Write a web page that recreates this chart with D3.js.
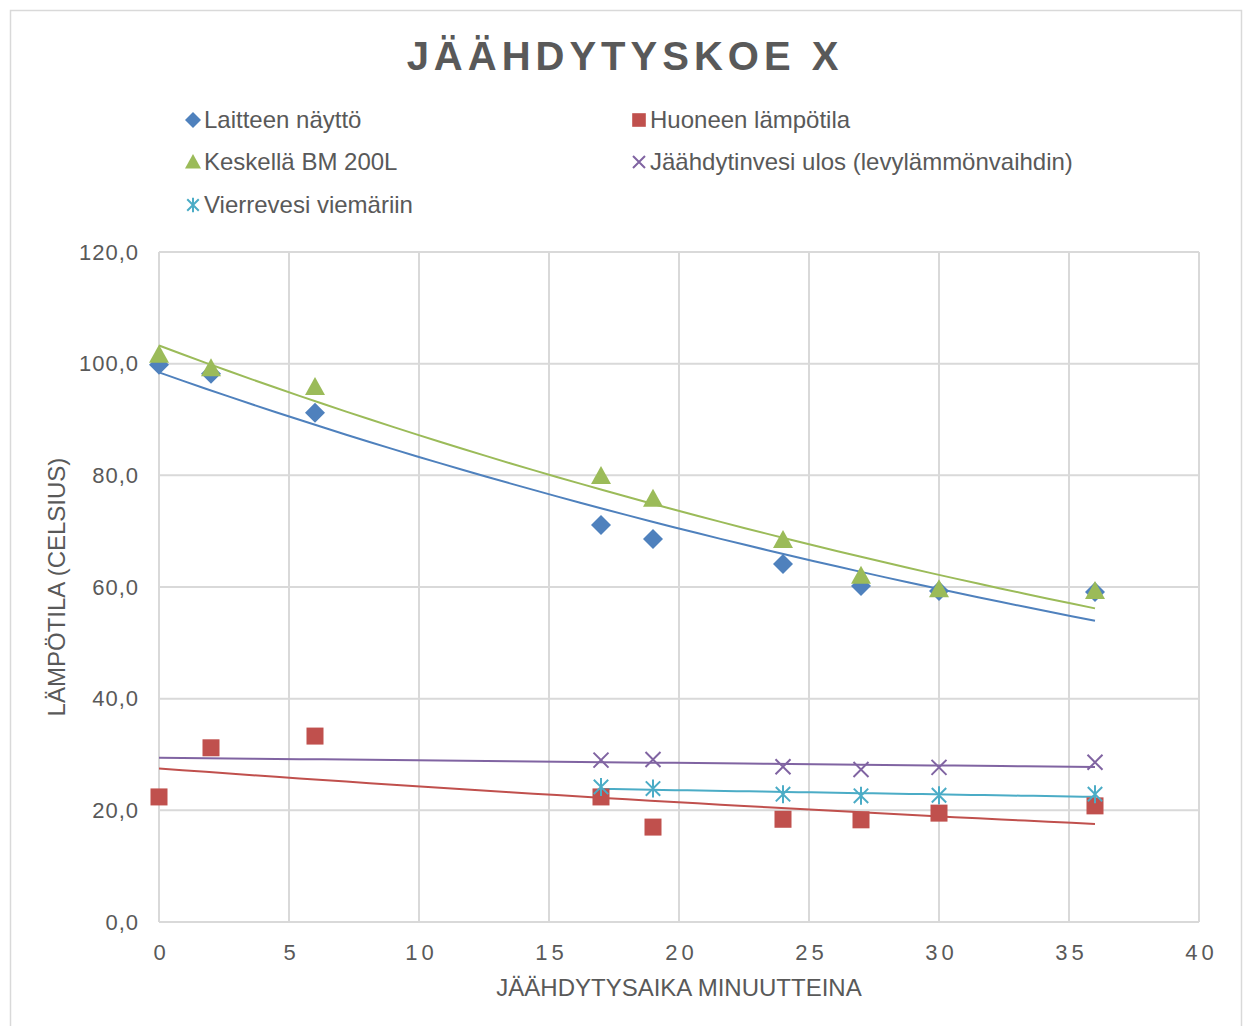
<!DOCTYPE html>
<html>
<head>
<meta charset="utf-8">
<script src="https://cdn.jsdelivr.net/npm/d3@7"></script>
<style>
  html, body { margin: 0; padding: 0; background: #fff; }
  svg { display: block; font-family: "Liberation Sans", Arial, sans-serif; }
</style>
</head>
<body>
<svg id="chart" width="1248" height="1026"></svg>
<script>
// Cooling test: minutes elapsed vs temperature (°C)
const minutes = [0, 2, 6, 17, 19, 24, 27, 30, 36];
const laitteenNaytto = [99.8, 98.2, 91.2, 71.1, 68.6, 64.1, 60.2, 59.3, 59.1];
const huoneenLampotila = [22.4, 31.2, 33.3, 22.4, 17.0, 18.4, 18.3, 19.5, 20.8];
const keskellaBM = [101.6, 99.2, 95.8, 79.9, 75.8, 68.4, 62.0, 59.6, 59.3];
const minutesLate = [17, 19, 24, 27, 30, 36];
const jaahdytinvesi = [29.0, 29.1, 27.8, 27.3, 27.7, 28.6];
const vierrevesi = [24.2, 23.9, 22.9, 22.6, 22.7, 22.9];

const yTicks = [0, 20, 40, 60, 80, 100, 120];
const xTicks = [0, 5, 10, 15, 20, 25, 30, 35, 40];

const series = [
  { name: "Laitteen näyttö", x: minutes, y: laitteenNaytto, color: "#4f81bd", symbol: "diamond", trendFrom: 0 },
  { name: "Huoneen lämpötila", x: minutes, y: huoneenLampotila, color: "#c0504d", symbol: "square", trendFrom: 0 },
  { name: "Keskellä BM 200L", x: minutes, y: keskellaBM, color: "#9bbb59", symbol: "triangle", trendFrom: 0 },
  { name: "Jäähdytinvesi ulos (levylämmönvaihdin)", x: minutesLate, y: jaahdytinvesi, color: "#8064a2", symbol: "cross", trendFrom: 0 },
  { name: "Vierrevesi viemäriin", x: minutesLate, y: vierrevesi, color: "#4bacc6", symbol: "star", trendFrom: 17 }
];

const svg = d3.select("#chart");
const W = 1248, H = 1026;
const margin = { left: 159, right: 49, top: 252, bottom: 104 };
const x = d3.scaleLinear().domain([0, 40]).range([margin.left, W - margin.right]);
const y = d3.scaleLinear().domain([0, 120]).range([H - margin.bottom, margin.top]);
const textColor = "#595959";
const gridColor = "#d9d9d9";

// outer chart border
svg.append("rect").attr("x", 10.5).attr("y", 10.5).attr("width", 1231).attr("height", 1030)
  .attr("fill", "#fff").attr("stroke", gridColor).attr("stroke-width", 1.5);

// title
svg.append("text").attr("x", 625).attr("y", 70).attr("text-anchor", "middle")
  .attr("font-size", 40).attr("font-weight", "bold").attr("letter-spacing", 5)
  .attr("fill", textColor).text("JÄÄHDYTYSKOE X");

// gridlines
const grid = svg.append("g");
grid.selectAll("line.h").data(yTicks).join("line")
  .attr("x1", x(0)).attr("x2", x(40)).attr("y1", d => y(d)).attr("y2", d => y(d))
  .attr("stroke", gridColor).attr("stroke-width", 2);
grid.selectAll("line.v").data(xTicks).join("line")
  .attr("y1", y(0)).attr("y2", y(120)).attr("x1", d => x(d)).attr("x2", d => x(d))
  .attr("stroke", gridColor).attr("stroke-width", 2);

// axes (tick labels only)
const fmt = d => d3.format(".1f")(d).replace(".", ",");
const yAxis = svg.append("g").attr("transform", `translate(${x(0) - 17},0)`)
  .call(d3.axisLeft(y).tickValues(yTicks).tickFormat(fmt).tickSize(0));
yAxis.select(".domain").remove();
yAxis.selectAll("text").attr("font-size", 22).attr("fill", textColor)
  .attr("font-family", "Liberation Sans, Arial, sans-serif").attr("letter-spacing", 1);

const xAxis = svg.append("g").attr("transform", `translate(0,${y(0) + 19})`)
  .call(d3.axisBottom(x).tickValues(xTicks).tickFormat(d3.format("d")).tickSize(0));
xAxis.select(".domain").remove();
xAxis.selectAll("text").attr("font-size", 22).attr("fill", textColor)
  .attr("font-family", "Liberation Sans, Arial, sans-serif").attr("letter-spacing", 4).attr("dx", 2);

// axis titles
svg.append("text").attr("x", x(20)).attr("y", 996).attr("text-anchor", "middle")
  .attr("font-size", 24).attr("fill", textColor).text("JÄÄHDYTYSAIKA MINUUTTEINA");
svg.append("text").attr("transform", `translate(65,${y(60)}) rotate(-90)`).attr("text-anchor", "middle")
  .attr("font-size", 24).attr("fill", textColor).text("LÄMPÖTILA (CELSIUS)");

// exponential trendline: y = a * e^(b x), least squares on ln(y)
function expFit(xs, ys) {
  const ly = ys.map(Math.log);
  const mx = d3.mean(xs), my = d3.mean(ly);
  const sxy = d3.sum(xs, (v, i) => (v - mx) * (ly[i] - my));
  const sxx = d3.sum(xs, v => (v - mx) ** 2);
  const b = sxy / sxx;
  const a = Math.exp(my - b * mx);
  return t => a * Math.exp(b * t);
}

const line = d3.line().x(d => x(d[0])).y(d => y(d[1]));
const trends = svg.append("g");
series.forEach(s => {
  const f = expFit(s.x, s.y);
  const x1 = d3.max(s.x);
  const pts = d3.range(0, 41).map(i => s.trendFrom + (x1 - s.trendFrom) * i / 40).map(t => [t, f(t)]);
  trends.append("path").attr("d", line(pts)).attr("fill", "none")
    .attr("stroke", s.color).attr("stroke-width", 2);
});

// marker shapes
function marker(g, symbol, color, size) {
  const r = size / 2;
  if (symbol === "diamond") {
    g.append("path").attr("d", `M0,${-r}L${r},0L0,${r}L${-r},0Z`).attr("fill", color);
  } else if (symbol === "square") {
    g.append("rect").attr("x", -r * 0.85).attr("y", -r * 0.85).attr("width", r * 1.7).attr("height", r * 1.7).attr("fill", color);
  } else if (symbol === "triangle") {
    g.append("path").attr("d", `M0,${-r}L${r},${r * 0.8}L${-r},${r * 0.8}Z`).attr("fill", color);
  } else if (symbol === "cross") {
    const c = r * 0.75;
    g.append("path").attr("d", `M${-c},${-c}L${c},${c}M${-c},${c}L${c},${-c}`)
      .attr("stroke", color).attr("stroke-width", 2).attr("fill", "none");
  } else if (symbol === "star") {
    const c = r * 0.72;
    g.append("path").attr("d", `M${-c},${-c}L${c},${c}M${-c},${c}L${c},${-c}M0,${-r * 0.9}L0,${r * 0.9}`)
      .attr("stroke", color).attr("stroke-width", 2).attr("fill", "none");
  }
}

// data markers
const pointsG = svg.append("g");
series.forEach(s => {
  s.x.forEach((xv, i) => {
    const g = pointsG.append("g").attr("transform", `translate(${x(xv)},${y(s.y[i])})`);
    marker(g, s.symbol, s.color, 20);
  });
});

// legend
const legendPos = [
  [193, 120], [639, 120], [193, 162], [639, 162], [193, 205]
];
const legend = svg.append("g");
series.forEach((s, k) => {
  const [lx, ly] = legendPos[k];
  const g = legend.append("g").attr("transform", `translate(${lx},${ly})`);
  marker(g, s.symbol, s.color, 16);
  g.append("text").attr("x", 11).attr("y", 8).attr("font-size", 24).attr("fill", textColor).text(s.name);
});
</script>
</body>
</html>
